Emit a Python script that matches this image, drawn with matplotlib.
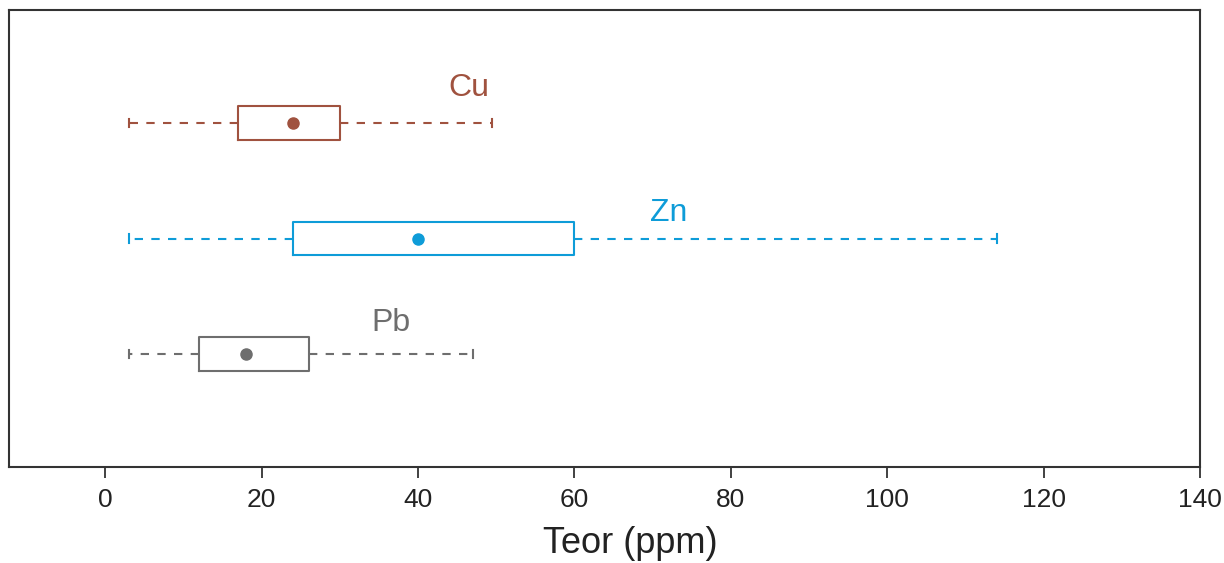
import matplotlib.pyplot as plt

plt.rcParams["font.family"] = ["Liberation Sans", "DejaVu Sans"]

# Box summaries (ppm)
elements = ["Cu", "Zn", "Pb"]
whislo = [3, 3, 3]
q1 = [17, 24, 12]
center = [24, 40, 18]
q3 = [30, 60, 26]
whishi = [49.5, 114, 47]
positions = [3, 2, 1]
colors = ["#A0523F", "#0E9CD8", "#6E6E6E"]

# label positions next to each box
label_x = [46.5, 72, 36.5]
label_dy = [0.30, 0.22, 0.27]

fig = plt.figure(figsize=(12.24, 5.63), dpi=100)
ax = fig.add_axes([0.0074, 0.1705, 0.9730, 0.8117])

for i, name in enumerate(elements):
    stats = [{"label": name, "whislo": whislo[i], "q1": q1[i], "med": center[i],
              "q3": q3[i], "whishi": whishi[i], "fliers": []}]
    c = colors[i]
    ax.bxp(stats, positions=[positions[i]], vert=False, widths=0.29,
           showfliers=False, capwidths=0.07,
           boxprops=dict(color=c, linewidth=1.5),
           whiskerprops=dict(color=c, linewidth=1.5, linestyle=(0, (4, 4))),
           capprops=dict(color=c, linewidth=1.5),
           medianprops=dict(linewidth=0))
    ax.plot(center[i], positions[i], "o", color=c, markersize=8)
    ax.text(label_x[i], positions[i] + label_dy[i], name, color=c,
            fontsize=23, ha="center", va="center")

ax.set_xlim(-12.3, 140)
ax.set_ylim(0.02, 3.98)
ax.set_yticks([])
ax.set_xticks(range(0, 141, 20))
ax.tick_params(axis="x", labelsize=19, length=8, width=1.3, color="#333333",
               labelcolor="#222222", pad=7)
for s in ax.spines.values():
    s.set_linewidth(1.5)
    s.set_color("#333333")
ax.set_xlabel("Teor (ppm)", fontsize=26, color="#222222", labelpad=10)
ax.xaxis.label.set_x(0.522)

fig.savefig("out.png", dpi=100)
